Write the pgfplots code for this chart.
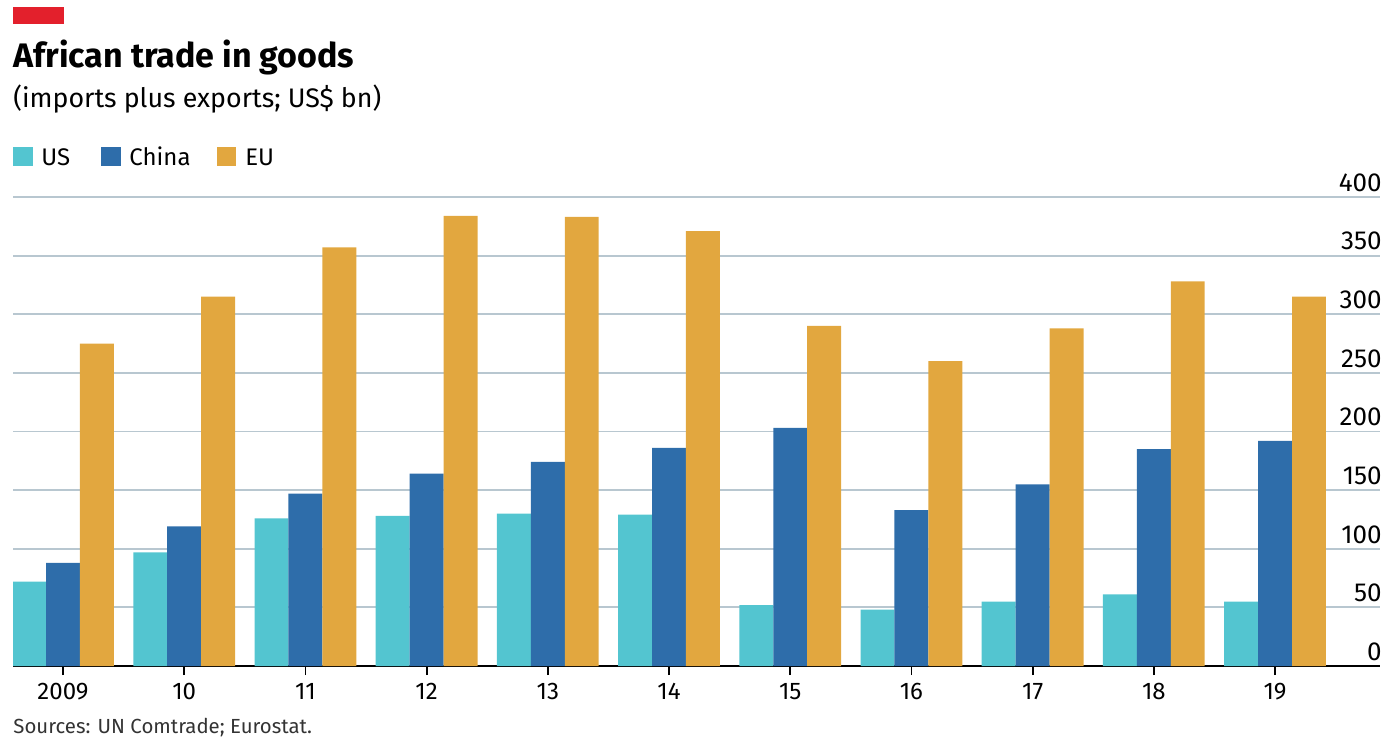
\documentclass[border=0pt]{standalone}
\usepackage{pgfplots}
\usepackage{pgfplotstable}
\pgfplotsset{compat=1.18}
\usepackage{fontspec}
\setmainfont{Fira Sans}
\definecolor{usc}{HTML}{53C5D0}
\definecolor{chn}{HTML}{2E6DAA}
\definecolor{euc}{HTML}{E2A73F}
\definecolor{gridc}{HTML}{B8C7D0}
\definecolor{redbar}{HTML}{E3202C}

% African trade in goods, US$ bn
\pgfplotstableread{
x us china eu
0  72  88 275
1  97 119 315
2 126 147 357
3 128 164 384
4 130 174 383
5 129 186 371
6  52 203 290
7  48 133 260
8  55 155 288
9  61 185 328
10 55 192 315
}\trade

\begin{document}
\begin{tikzpicture}
\path[use as bounding box] (0,0) rectangle (694pt,370pt);
\fill[redbar] (6.5pt,358pt) rectangle (32pt,366.5pt);
\node[anchor=base west, inner sep=0pt, font=\fontsize{17}{20}\selectfont\bfseries] at (6.5pt,336pt) {African trade in goods};
\node[anchor=base west, inner sep=0pt, font=\fontsize{13.4}{16}\selectfont] at (6.5pt,316pt) {(imports plus exports; US\$ bn)};
\fill[usc] (6.5pt,287pt) rectangle (16.5pt,296.5pt);
\node[anchor=base west, inner sep=0pt, font=\fontsize{12}{15}\selectfont] at (20.5pt,287pt) {US};
\fill[chn] (50.5pt,287pt) rectangle (60.5pt,296.5pt);
\node[anchor=base west, inner sep=0pt, font=\fontsize{12}{15}\selectfont] at (64.5pt,287pt) {China};
\fill[euc] (108.5pt,287pt) rectangle (118pt,296.5pt);
\node[anchor=base west, inner sep=0pt, font=\fontsize{12}{15}\selectfont] at (122.5pt,287pt) {EU};
\node[anchor=base west, inner sep=0pt, font=\fontsize{10.2}{13}\selectfont, text=black!80] at (6.5pt,3.5pt) {Sources: UN Comtrade; Eurostat.};
\begin{axis}[
    at={(6.5pt,37pt)}, anchor=south west,
    scale only axis, width=683.5pt, height=234.5pt,
    xmin=-0.4125, xmax=10.866, ymin=0, ymax=400,
    axis x line*=bottom, axis y line*=right,
    x axis line style={black, line width=1pt, -},
    y axis line style={draw=none},
    xtick={0,...,10},
    xticklabels={2009,10,11,12,13,14,15,16,17,18,19},
    ytick={0,50,...,400},
    ymajorgrids,
    grid style={gridc, line width=0.9pt},
    tick align=outside,
    major tick length=4.5pt,
    xtick style={black, line width=0.9pt},
    ytick style={draw=none},
    /pgf/number format/assume math mode=true,
    xticklabel style={font=\fontsize{12}{14}\selectfont, anchor=base, inner sep=0pt, yshift=-12pt},
    yticklabel style={font=\fontsize{13}{15}\selectfont, anchor=south east, inner sep=1pt, xshift=-2.5pt, yshift=1.5pt},
]
\addplot[ybar, bar width=0.28, bar shift=-0.28, fill=usc, draw=none] table[x=x, y=us] {\trade};
\addplot[ybar, bar width=0.28, bar shift=0, fill=chn, draw=none] table[x=x, y=china] {\trade};
\addplot[ybar, bar width=0.28, bar shift=0.28, fill=euc, draw=none] table[x=x, y=eu] {\trade};
\end{axis}
\end{tikzpicture}
\end{document}
